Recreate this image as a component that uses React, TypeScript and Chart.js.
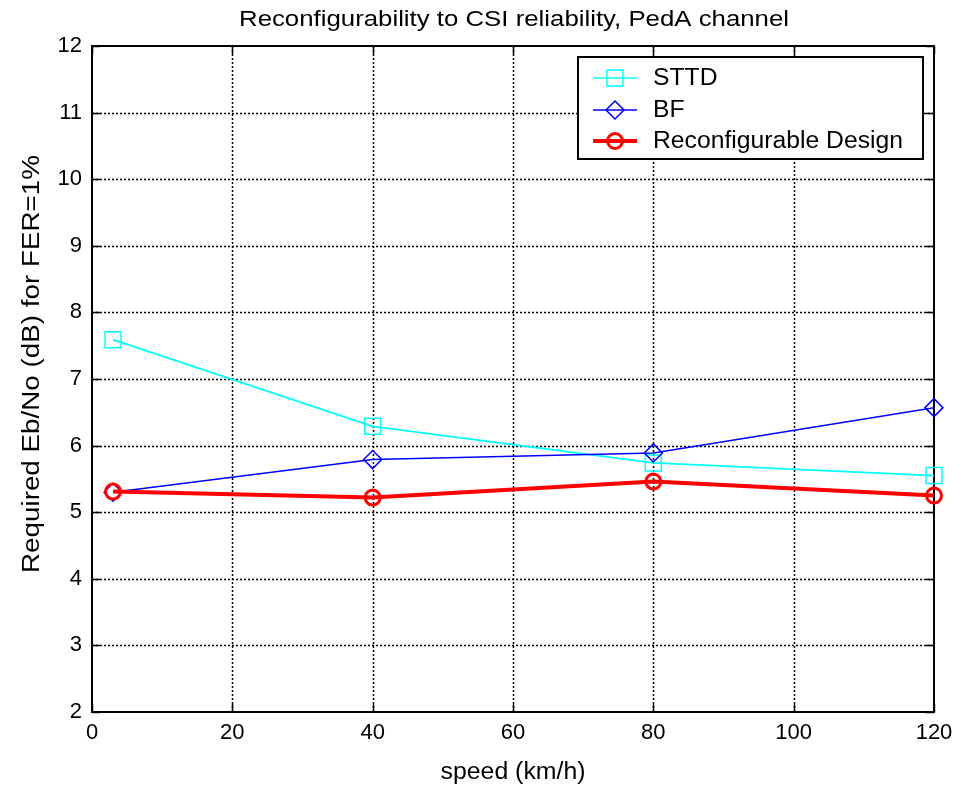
import React, { useEffect, useRef } from "react";
import { Chart, registerables } from "chart.js";
Chart.register(...registerables);

const speeds = [3, 40, 80, 120];
const sttdValues = [7.59, 6.29, 5.74, 5.55];
const bfValues = [5.3, 5.79, 5.89, 6.57];
const reconfValues = [5.31, 5.22, 5.46, 5.25];
const xTickValues = [0, 20, 40, 60, 80, 100, 120];
const yTickValues = [2, 3, 4, 5, 6, 7, 8, 9, 10, 11, 12];
const seriesNames = ["STTD", "BF", "Reconfigurable Design"];
const titleText = "Reconfigurability to CSI reliability, PedA channel";
const xLabelText = "speed (km/h)";
const yLabelText = "Required Eb/No (dB) for FER=1%";

const FONT = '"Liberation Sans", Arial, Helvetica, sans-serif';

function drawStretched(
  ctx: CanvasRenderingContext2D,
  text: string,
  cx: number,
  cy: number,
  fontPx: number,
  targetWidth: number,
  rotate = 0
) {
  ctx.save();
  ctx.font = `${fontPx}px ${FONT}`;
  const w = ctx.measureText(text).width;
  const s = targetWidth / w;
  ctx.translate(cx, cy);
  ctx.rotate(rotate);
  ctx.scale(s, 1);
  ctx.fillStyle = "#000";
  ctx.textAlign = "center";
  ctx.textBaseline = "middle";
  ctx.fillText(text, 0, 0);
  ctx.restore();
}

function drawMarker(ctx: CanvasRenderingContext2D, kind: string, x: number, y: number) {
  ctx.save();
  ctx.setLineDash([]);
  if (kind === "rect") {
    ctx.strokeStyle = "#00ffff";
    ctx.lineWidth = 1.5;
    ctx.strokeRect(x - 8, y - 8, 16, 16);
  } else if (kind === "diamond") {
    ctx.strokeStyle = "#0000ff";
    ctx.lineWidth = 1.5;
    ctx.beginPath();
    ctx.moveTo(x, y - 9);
    ctx.lineTo(x + 9, y);
    ctx.lineTo(x, y + 9);
    ctx.lineTo(x - 9, y);
    ctx.closePath();
    ctx.stroke();
  } else {
    ctx.strokeStyle = "#ff0000";
    ctx.lineWidth = 3;
    ctx.beginPath();
    ctx.arc(x, y, 7.5, 0, Math.PI * 2);
    ctx.stroke();
  }
  ctx.restore();
}

const decorPlugin = {
  id: "decor",
  beforeDatasetsDraw(chart: any) {
    const { ctx, chartArea } = chart;
    const { left, right, top, bottom } = chartArea;
    const xs = chart.scales.x;
    const ys = chart.scales.y;
    ctx.save();
    ctx.strokeStyle = "#000";
    ctx.lineWidth = 1.5;
    ctx.setLineDash([2, 2]);
    for (const v of xTickValues) {
      if (v === xTickValues[0] || v === xTickValues[xTickValues.length - 1]) continue;
      const px = Math.round(xs.getPixelForValue(v)) + 0.5;
      ctx.beginPath();
      ctx.moveTo(px, top);
      ctx.lineTo(px, bottom);
      ctx.stroke();
    }
    for (const v of yTickValues) {
      if (v === yTickValues[0] || v === yTickValues[yTickValues.length - 1]) continue;
      const py = Math.round(ys.getPixelForValue(v)) + 0.5;
      ctx.beginPath();
      ctx.moveTo(left, py);
      ctx.lineTo(right, py);
      ctx.stroke();
    }
    ctx.setLineDash([]);
    ctx.lineWidth = 2;
    ctx.strokeRect(left, top, right - left, bottom - top);
    const tl = 8;
    ctx.lineWidth = 1.5;
    for (const v of xTickValues) {
      const px = Math.round(xs.getPixelForValue(v)) + 0.5;
      ctx.beginPath();
      ctx.moveTo(px, bottom);
      ctx.lineTo(px, bottom - tl);
      ctx.moveTo(px, top);
      ctx.lineTo(px, top + tl);
      ctx.stroke();
    }
    for (const v of yTickValues) {
      const py = Math.round(ys.getPixelForValue(v)) + 0.5;
      ctx.beginPath();
      ctx.moveTo(left, py);
      ctx.lineTo(left + tl, py);
      ctx.moveTo(right, py);
      ctx.lineTo(right - tl, py);
      ctx.stroke();
    }
    ctx.restore();
  },
  afterDraw(chart: any) {
    const { ctx, chartArea } = chart;
    const { left, right, top, bottom } = chartArea;
    const cx = (left + right) / 2;
    drawStretched(ctx, titleText, cx + 1, 20, 22.5, 550);
    drawStretched(ctx, xLabelText, cx, 773, 23, 145);
    drawStretched(ctx, yLabelText, 33, (top + bottom) / 2 - 15, 23, 418, -Math.PI / 2);

    // legend
    const bx = 578, by = 57, bw = 345, bh = 102;
    ctx.save();
    ctx.fillStyle = "#fff";
    ctx.fillRect(bx, by, bw, bh);
    ctx.strokeStyle = "#000";
    ctx.lineWidth = 2;
    ctx.strokeRect(bx, by, bw, bh);
    const rows = [78, 110, 141];
    const colors = ["#00ffff", "#0000ff", "#ff0000"];
    const widths = [1.5, 1.5, 4];
    const kinds = ["rect", "diamond", "circle"];
    ctx.font = `23px ${FONT}`;
    const longest = ctx.measureText(seriesNames[2]).width;
    const s = 250 / longest;
    for (let i = 0; i < 3; i++) {
      const yy = rows[i];
      ctx.strokeStyle = colors[i];
      ctx.lineWidth = widths[i];
      ctx.beginPath();
      ctx.moveTo(593, yy);
      ctx.lineTo(637, yy);
      ctx.stroke();
      drawMarker(ctx, kinds[i], 615, yy);
      ctx.save();
      ctx.translate(653, yy);
      ctx.scale(s, 1);
      ctx.fillStyle = "#000";
      ctx.textAlign = "left";
      ctx.textBaseline = "middle";
      ctx.font = `23px ${FONT}`;
      ctx.fillText(seriesNames[i], 0, 1);
      ctx.restore();
    }
    ctx.restore();
  },
};

export default function App() {
  const ref = useRef<HTMLCanvasElement | null>(null);
  useEffect(() => {
    if (!ref.current) return;
    const mk = (vals: number[]) => speeds.map((s, i) => ({ x: s, y: vals[i] }));
    const chart = new Chart(ref.current, {
      type: "line",
      data: {
        datasets: [
          {
            label: seriesNames[0],
            data: mk(sttdValues),
            borderColor: "#00ffff",
            borderWidth: 1.8,
            pointStyle: "rect",
            pointRadius: 11.3,
            pointBorderWidth: 1.5,
            pointBorderColor: "#00ffff",
            pointBackgroundColor: "rgba(0,0,0,0)",
            tension: 0,
            clip: false as any,
            order: 3,
          },
          {
            label: seriesNames[1],
            data: mk(bfValues),
            borderColor: "#0000ff",
            borderWidth: 1.5,
            pointStyle: "rectRot",
            pointRadius: 9,
            pointBorderWidth: 1.5,
            pointBorderColor: "#0000ff",
            pointBackgroundColor: "rgba(0,0,0,0)",
            tension: 0,
            clip: false as any,
            order: 2,
          },
          {
            label: seriesNames[2],
            data: mk(reconfValues),
            borderColor: "#ff0000",
            borderWidth: 4,
            pointStyle: "circle",
            pointRadius: 7.5,
            pointBorderWidth: 3,
            pointBorderColor: "#ff0000",
            pointBackgroundColor: "rgba(0,0,0,0)",
            tension: 0,
            clip: false as any,
            order: 1,
          },
        ],
      },
      options: {
        animation: false,
        responsive: false,
        devicePixelRatio: 1,
        events: [],
        layout: { padding: { top: 46, right: 39, left: 0, bottom: 0 } },
        plugins: { legend: { display: false }, title: { display: false }, tooltip: { enabled: false } },
        scales: {
          x: {
            type: "linear",
            min: 0,
            max: 120,
            afterFit: (sc: any) => {
              sc.height = 73;
            },
            afterBuildTicks: (sc: any) => {
              sc.ticks = xTickValues.map((v) => ({ value: v }));
            },
            grid: { display: false, drawTicks: false },
            border: { display: false },
            ticks: {
              padding: 8,
              color: "#000",
              maxRotation: 0,
              font: { family: FONT, size: 22 },
            },
          },
          y: {
            type: "linear",
            min: 2,
            max: 12,
            afterFit: (sc: any) => {
              sc.width = 92;
            },
            afterBuildTicks: (sc: any) => {
              sc.ticks = yTickValues.map((v) => ({ value: v }));
            },
            grid: { display: false, drawTicks: false },
            border: { display: false },
            ticks: {
              padding: 10,
              color: "#000",
              font: { family: FONT, size: 22 },
            },
          },
        },
      },
      plugins: [decorPlugin],
    });
    return () => chart.destroy();
  }, []);
  return (
    <div style={{ position: "fixed", left: 0, top: 0, width: 973, height: 785, background: "#fff" }}>
      <canvas ref={ref} width={973} height={785} style={{ display: "block" }} />
    </div>
  );
}
